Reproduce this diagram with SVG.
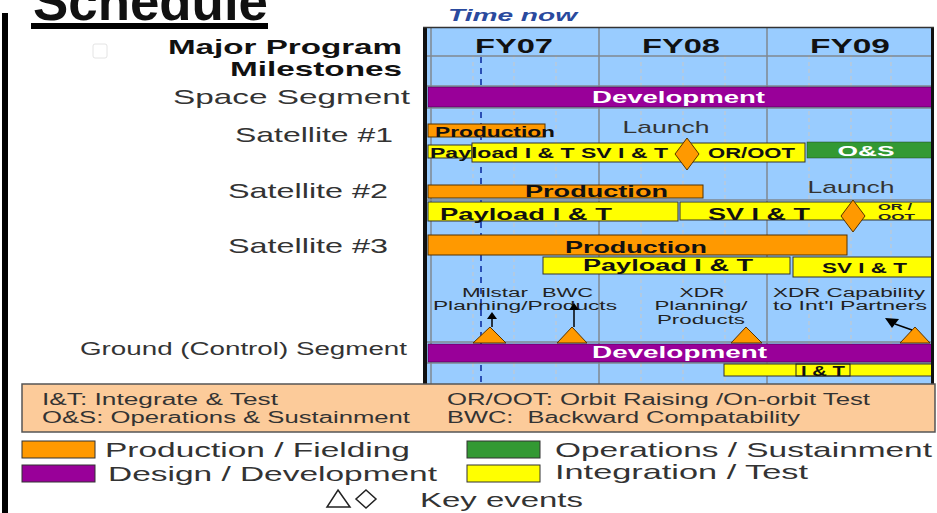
<svg xmlns="http://www.w3.org/2000/svg" width="937" height="513" viewBox="0 0 937 513">
<style>
.lbl{font-family:"Liberation Sans",Arial,sans-serif;fill:#333;}
.hd{font-family:"Liberation Sans",Arial,sans-serif;font-weight:bold;fill:#111;}
.bt{font-family:"Liberation Sans",Arial,sans-serif;font-weight:bold;fill:#111;}
.wt{font-family:"Liberation Sans",Arial,sans-serif;font-weight:bold;fill:#fff;}
.sm{font-family:"Liberation Sans",Arial,sans-serif;fill:#222;}
.org{fill:#FF9900;stroke:#553300;stroke-width:1;}
.yel{fill:#FFFF00;stroke:#333;stroke-width:1;}
.pur{fill:#990099;stroke:#330033;stroke-width:0.5;}
.grn{fill:#339933;stroke:#224422;stroke-width:0.5;}
.grid{stroke:#808890;stroke-width:1.5;}
.q{stroke:#c8c8c8;stroke-width:1;stroke-dasharray:4 3;}
</style>
<rect width="937" height="513" fill="#fff"/>
<rect x="2" y="13" width="6" height="500" fill="#000"/>
<g id="title">
<text x="33" y="20" class="hd" font-size="53" textLength="235" lengthAdjust="spacingAndGlyphs" fill="#000">Schedule</text>
<rect x="31" y="23" width="237" height="6" fill="#000"/>
</g>
<rect x="93" y="44" width="14" height="14" rx="2" fill="none" stroke="#e4e4e4" stroke-width="1"/>
<text x="448" y="21" font-family="'Liberation Sans',Arial,sans-serif" font-weight="bold" font-style="italic" font-size="17" fill="#2a4a9e" textLength="129" lengthAdjust="spacingAndGlyphs">Time now</text>
<g id="labels">
<text x="402" y="54" class="hd" font-size="21" text-anchor="end" textLength="234" lengthAdjust="spacingAndGlyphs">Major Program</text>
<text x="402" y="76" class="hd" font-size="21" text-anchor="end" textLength="172" lengthAdjust="spacingAndGlyphs">Milestones</text>
<text x="410" y="104" class="lbl" font-size="21" text-anchor="end" textLength="237" lengthAdjust="spacingAndGlyphs">Space Segment</text>
<text x="393" y="142" class="lbl" font-size="21" text-anchor="end" textLength="158" lengthAdjust="spacingAndGlyphs">Satellite #1</text>
<text x="388" y="198" class="lbl" font-size="21" text-anchor="end" textLength="160" lengthAdjust="spacingAndGlyphs">Satellite #2</text>
<text x="388" y="253" class="lbl" font-size="21" text-anchor="end" textLength="160" lengthAdjust="spacingAndGlyphs">Satellite #3</text>
<text x="407" y="355" class="lbl" font-size="18" text-anchor="end" textLength="327" lengthAdjust="spacingAndGlyphs">Ground (Control) Segment</text>
</g>
<g id="chart">
<rect x="426" y="27" width="507" height="357" fill="#99CCFF"/>
<g class="q">
<line x1="473" y1="55" x2="473" y2="384"/><line x1="514" y1="55" x2="514" y2="384"/><line x1="556" y1="55" x2="556" y2="384"/>
<line x1="641" y1="55" x2="641" y2="384"/><line x1="683" y1="55" x2="683" y2="384"/><line x1="725" y1="55" x2="725" y2="384"/>
<line x1="809" y1="55" x2="809" y2="384"/><line x1="851" y1="55" x2="851" y2="384"/><line x1="891" y1="55" x2="891" y2="384"/>
</g>
<g class="grid">
<line x1="431" y1="27" x2="431" y2="384"/>
<line x1="599" y1="27" x2="599" y2="384"/>
<line x1="767" y1="27" x2="767" y2="384"/>
<line x1="426" y1="56" x2="932" y2="56"/>
<line x1="426" y1="86" x2="932" y2="86"/>
<line x1="426" y1="108" x2="932" y2="108"/>
<line x1="426" y1="200" x2="932" y2="200"/>
<line x1="426" y1="342" x2="932" y2="342"/>
<line x1="426" y1="363" x2="932" y2="363"/>
</g>
<text x="514" y="53" class="hd" font-size="20" text-anchor="middle" textLength="78" lengthAdjust="spacingAndGlyphs">FY07</text>
<text x="681" y="53" class="hd" font-size="20" text-anchor="middle" textLength="78" lengthAdjust="spacingAndGlyphs">FY08</text>
<text x="850" y="53" class="hd" font-size="20" text-anchor="middle" textLength="80" lengthAdjust="spacingAndGlyphs">FY09</text>
<line x1="481" y1="57" x2="481" y2="384" stroke="#2a4fb5" stroke-width="2" stroke-dasharray="6 5"/>
</g>
<g id="space-dev">
<rect x="428" y="87" width="504" height="20" class="pur"/>
<text x="592" y="103" class="wt" font-size="17" textLength="173" lengthAdjust="spacingAndGlyphs">Development</text>
</g>
<g id="sat1">
<rect x="428" y="124" width="117" height="13" class="org"/>
<text x="435" y="137" class="bt" font-size="14" textLength="120" lengthAdjust="spacingAndGlyphs">Production</text>
<text x="666" y="133" class="lbl" font-size="17" text-anchor="middle" textLength="87" lengthAdjust="spacingAndGlyphs" fill="#334">Launch</text>
<rect x="428" y="145" width="44" height="13" class="yel"/>
<rect x="472" y="143" width="333" height="19" class="yel"/>
<text x="430" y="158" class="bt" font-size="15" textLength="238" lengthAdjust="spacingAndGlyphs">Payload I &amp; T  SV I &amp; T</text>
<text x="708" y="158" class="bt" font-size="15" textLength="87" lengthAdjust="spacingAndGlyphs">OR/OOT</text>
<rect x="807" y="142" width="125" height="16" class="grn"/>
<text x="866" y="156" class="wt" font-size="15" text-anchor="middle" textLength="57" lengthAdjust="spacingAndGlyphs">O&amp;S</text>
<polygon points="687,138 699,154 687,170 675,154" class="org"/>
</g>
<g id="sat2">
<rect x="428" y="185" width="275" height="13" class="org"/>
<text x="525" y="197" class="bt" font-size="17" textLength="143" lengthAdjust="spacingAndGlyphs">Production</text>
<text x="851" y="193" class="lbl" font-size="17" text-anchor="middle" textLength="87" lengthAdjust="spacingAndGlyphs" fill="#334">Launch</text>
<rect x="428" y="202" width="250" height="19" class="yel"/>
<rect x="680" y="202" width="252" height="18" class="yel"/>
<text x="440" y="220" class="bt" font-size="17" textLength="172" lengthAdjust="spacingAndGlyphs">Payload I &amp; T</text>
<text x="708" y="220" class="bt" font-size="17" textLength="102" lengthAdjust="spacingAndGlyphs">SV I &amp; T</text>
<text x="878" y="210" class="sm" font-size="9" font-weight="bold" textLength="34" lengthAdjust="spacingAndGlyphs">OR /</text>
<text x="878" y="220" class="sm" font-size="9" font-weight="bold" textLength="37" lengthAdjust="spacingAndGlyphs">OOT</text>
<polygon points="853,200 865,216 853,232 841,216" class="org"/>
</g>
<g id="sat3">
<rect x="428" y="235" width="419" height="20" class="org"/>
<text x="565" y="253" class="bt" font-size="17" textLength="142" lengthAdjust="spacingAndGlyphs">Production</text>
<rect x="543" y="257" width="247" height="17" class="yel"/>
<text x="583" y="271" class="bt" font-size="16" textLength="170" lengthAdjust="spacingAndGlyphs">Payload I &amp; T</text>
<rect x="793" y="257" width="139" height="20" class="yel"/>
<text x="822" y="273" class="bt" font-size="15" textLength="85" lengthAdjust="spacingAndGlyphs">SV I &amp; T</text>
</g>
<g id="ground">
<text x="462" y="297" class="sm" font-size="12" textLength="66" lengthAdjust="spacingAndGlyphs">Milstar</text>
<text x="542" y="297" class="sm" font-size="12" textLength="51" lengthAdjust="spacingAndGlyphs">BWC</text>
<text x="433" y="310" class="sm" font-size="12" textLength="184" lengthAdjust="spacingAndGlyphs">Planning/Products</text>
<text x="702" y="297" class="sm" font-size="12" text-anchor="middle" textLength="45" lengthAdjust="spacingAndGlyphs">XDR</text>
<text x="701" y="310" class="sm" font-size="12" text-anchor="middle" textLength="93" lengthAdjust="spacingAndGlyphs">Planning/</text>
<text x="701" y="324" class="sm" font-size="12" text-anchor="middle" textLength="88" lengthAdjust="spacingAndGlyphs">Products</text>
<text x="773" y="297" class="sm" font-size="12" textLength="152" lengthAdjust="spacingAndGlyphs">XDR Capability</text>
<text x="773" y="310" class="sm" font-size="12" textLength="154" lengthAdjust="spacingAndGlyphs">to Int'l Partners</text>
<polygon points="490,327 506,343 473,343" class="org"/>
<polygon points="572,327 587,343 557,343" class="org"/>
<polygon points="746,327 762,343 731,343" class="org"/>
<polygon points="915,327 930,343 900,343" class="org"/>
<rect x="428" y="344" width="504" height="18" class="pur"/>
<text x="592" y="358" class="wt" font-size="17" textLength="175" lengthAdjust="spacingAndGlyphs">Development</text>
<rect x="724" y="364" width="208" height="12" class="yel"/>
<rect x="796" y="364" width="54" height="12" fill="none" stroke="#222" stroke-width="1"/>
<text x="823" y="376" class="bt" font-size="14" text-anchor="middle" textLength="44" lengthAdjust="spacingAndGlyphs">I &amp; T</text>
</g>
<g id="connectors" stroke="#000" stroke-width="1.5" fill="#000">
<line x1="492" y1="327" x2="492" y2="318"/>
<polygon points="492,312 497,319 487,319" stroke="none"/>
<line x1="574" y1="327" x2="574" y2="309"/>
<polygon points="574,303 579,310 569,310" stroke="none"/>
<line x1="912" y1="330" x2="895" y2="324"/>
<polygon points="885,318 899,319 892,328" stroke="none"/>
</g>
<rect x="423" y="27" width="4" height="358" fill="#111"/>
<rect x="931" y="27" width="3" height="358" fill="#111"/>
<line x1="423" y1="27.5" x2="934" y2="27.5" stroke="#333" stroke-width="1.5"/>
<g id="legend-box">
<rect x="22" y="384" width="913" height="48" fill="#FCCB9A" stroke="#555" stroke-width="1.5"/>
<text x="42" y="405" class="lbl" font-size="16" textLength="236" lengthAdjust="spacingAndGlyphs">I&amp;T: Integrate &amp; Test</text>
<text x="42" y="423" class="lbl" font-size="16" textLength="368" lengthAdjust="spacingAndGlyphs">O&amp;S: Operations &amp; Sustainment</text>
<text x="447" y="405" class="lbl" font-size="16" textLength="423" lengthAdjust="spacingAndGlyphs">OR/OOT: Orbit Raising /On-orbit Test</text>
<text x="447" y="423" class="lbl" font-size="16" textLength="353" lengthAdjust="spacingAndGlyphs" xml:space="preserve">BWC:  Backward Compatability</text>
</g>
<g id="legend">
<rect x="22" y="441" width="73" height="17" fill="#FF9900" stroke="#333"/>
<text x="105" y="457" class="lbl" font-size="21" textLength="305" lengthAdjust="spacingAndGlyphs">Production / Fielding</text>
<rect x="22" y="465" width="73" height="17" fill="#990099" stroke="#333"/>
<text x="108" y="481" class="lbl" font-size="21" textLength="329" lengthAdjust="spacingAndGlyphs">Design / Development</text>
<rect x="467" y="441" width="73" height="17" fill="#339933" stroke="#333"/>
<text x="555" y="457" class="lbl" font-size="21" textLength="377" lengthAdjust="spacingAndGlyphs">Operations / Sustainment</text>
<rect x="467" y="465" width="73" height="17" fill="#FFFF00" stroke="#333"/>
<text x="555" y="479" class="lbl" font-size="21" textLength="253" lengthAdjust="spacingAndGlyphs">Integration / Test</text>
<polygon points="338,490 350,507 327,507" fill="none" stroke="#222" stroke-width="1.5"/>
<polygon points="366,490 376,499 366,508 356,499" fill="none" stroke="#222" stroke-width="1.5"/>
<text x="420" y="507" class="lbl" font-size="21" textLength="163" lengthAdjust="spacingAndGlyphs">Key events</text>
</g>
</svg>
